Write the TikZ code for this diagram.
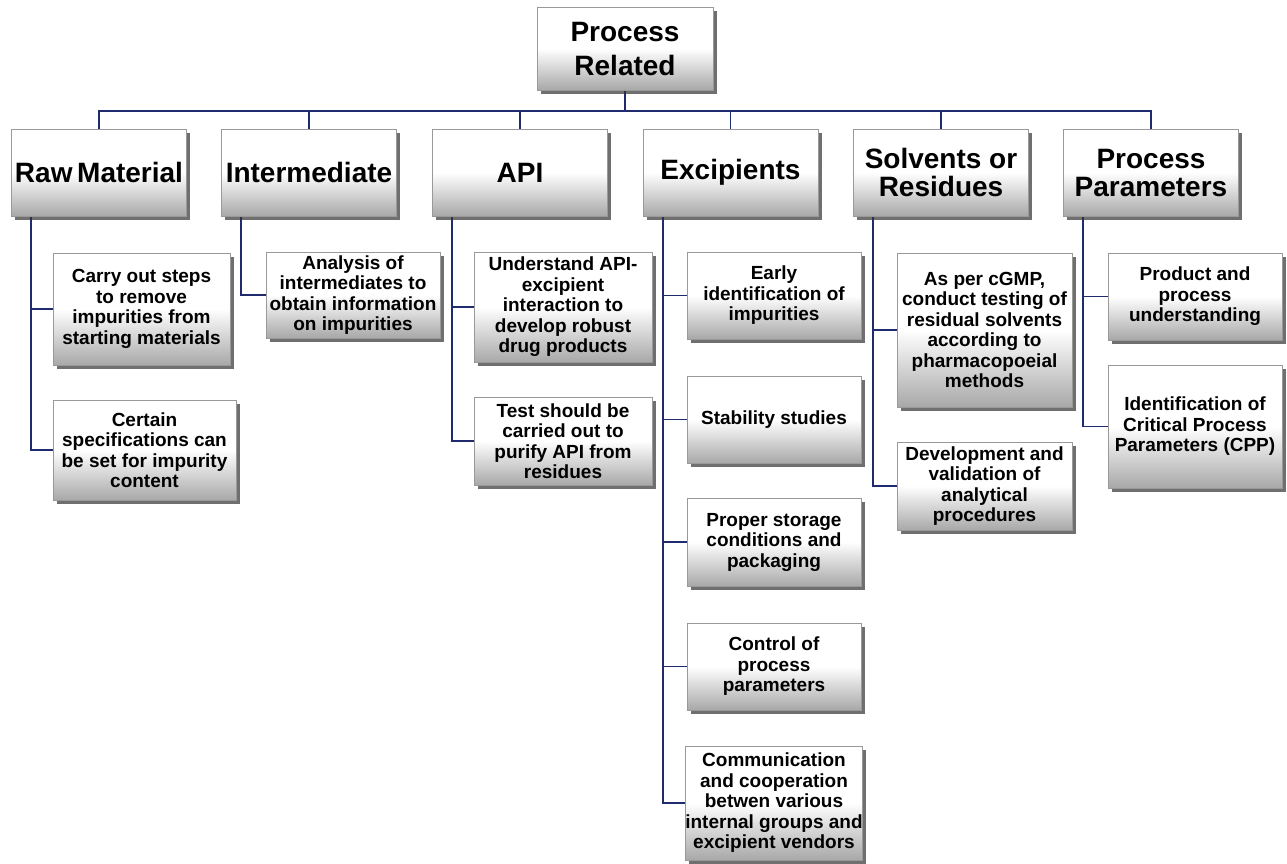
\documentclass[tikz,border=0pt]{standalone}
\usepackage{fontspec}
\setmainfont{Liberation Sans}
\usetikzlibrary{shadows,calc,backgrounds}
\definecolor{navy}{HTML}{1F2B6E}
\definecolor{boxgray}{HTML}{A8A8A8}
\pgfdeclareverticalshading{boxshade}{100bp}{color(0bp)=(boxgray); color(25bp)=(boxgray); color(50bp)=(white); color(100bp)=(white)}
\begin{document}
\begin{tikzpicture}[x=1pt,y=-1pt,
  box/.style={rectangle, draw=black!40, line width=0.6pt, shading=boxshade, align=center,
    inner sep=2pt, font=\bfseries\fontsize{19}{20.5}\selectfont,
    drop shadow={shadow xshift=3.5pt, shadow yshift=-4pt, fill=black!80, opacity=0.7}},
  head/.style={box, minimum width=175pt, minimum height=87pt, font=\bfseries\fontsize{28}{28}\selectfont},
  conn/.style={draw=navy, line width=1.6pt}]
\useasboundingbox (0,0) rectangle (1287,863);
\coordinate (busy) at (0,111);

% root and heads
\node[head, minimum width=176pt, minimum height=83pt, font=\bfseries\fontsize{28}{34}\selectfont] (root) at (625,48.5) {Process\\Related};
\node[head] (raw) at (99,172.5) {Raw\,Material};
\node[head] (int) at (309,172.5) {Intermediate};
\node[head] (api) at (520,172.5) {API};
\node[head] (exc) at (730.5,172.5) {Excipients};
\node[head] (sol) at (941,172.5) {Solvents or\\Residues};
\node[head] (pp) at (1151,172.5) {Process\\Parameters};

% children
\node[box, minimum width=177pt, minimum height=112pt] (r1) at (141.5,309) {Carry out steps\\to remove\\impurities from\\starting materials};
\node[box, minimum width=183pt, minimum height=100pt] (r2) at (144.5,450) {Certain\\specifications can\\be set for impurity\\content};
\node[box, minimum width=174pt, minimum height=86pt] (i1) at (353,295) {Analysis of\\intermediates to\\obtain information\\on impurities};
\node[box, minimum width=178pt, minimum height=110pt] (a1) at (563,307) {Understand API-\\excipient\\interaction to\\develop robust\\drug products};
\node[box, minimum width=178pt, minimum height=88pt] (a2) at (563,441) {Test should be\\carried out to\\purify API from\\residues};
\node[box, minimum width=174pt, minimum height=87pt] (e1) at (774,295.5) {Early\\identification of\\impurities};
\node[box, minimum width=174pt, minimum height=87pt] (e2) at (774,419.5) {Stability studies};
\node[box, minimum width=174pt, minimum height=88pt] (e3) at (774,542) {Proper storage\\conditions and\\packaging};
\node[box, minimum width=174pt, minimum height=87pt] (e4) at (774,666.5) {Control of\\process\\parameters};
\node[box, minimum width=174pt, minimum height=114pt, inner xsep=0pt] (e5) at (774,803) {Communication\\and cooperation\\betwen various\\internal groups and\\excipient vendors};
\node[box, minimum width=175pt, minimum height=154pt] (s1) at (984.5,330) {As per cGMP,\\conduct testing of\\residual solvents\\according to\\pharmacopoeial\\methods};
\node[box, minimum width=175pt, minimum height=88pt] (s2) at (984.5,486) {Development and\\validation of\\analytical\\procedures};
\node[box, minimum width=174pt, minimum height=87pt] (p1) at (1195,296.5) {Product and\\process\\understanding};
\node[box, minimum width=174pt, minimum height=123pt] (p2) at (1195,426.5) {Identification of\\Critical Process\\Parameters (CPP)};

\begin{scope}[on background layer]
  \fill[white] (0,0) rectangle (1287,863);
  % top bus
  \draw[conn] (root.south) -- (root.south |- busy);
  \draw[conn] (raw.north) -- (raw.north |- busy) -- (pp.north |- busy) -- (pp.north);
  \foreach \n in {int,api,exc,sol} \draw[conn] (\n.north) -- (\n.north |- busy);
  % stems
  \draw[conn] ($(raw.south west)+(20,0)$) |- (r1.west);
  \draw[conn] ($(raw.south west)+(20,0)$) |- (r2.west);
  \draw[conn] ($(int.south west)+(20,0)$) |- (i1.west);
  \draw[conn] ($(api.south west)+(20,0)$) |- (a1.west);
  \draw[conn] ($(api.south west)+(20,0)$) |- (a2.west);
  \foreach \c in {e1,e2,e3,e4,e5} \draw[conn] ($(exc.south west)+(20,0)$) |- (\c.west);
  \draw[conn] ($(sol.south west)+(20,0)$) |- (s1.west);
  \draw[conn] ($(sol.south west)+(20,0)$) |- (s2.west);
  \draw[conn] ($(pp.south west)+(20,0)$) |- (p1.west);
  \draw[conn] ($(pp.south west)+(20,0)$) |- (p2.west);
\end{scope}
\end{tikzpicture}
\end{document}
